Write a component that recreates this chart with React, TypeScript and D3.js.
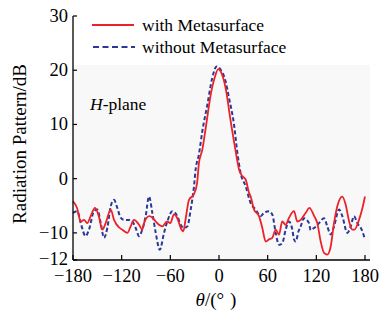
import React from "react";
import * as d3 from "d3";

// angle (deg) and level (dB)
const redAngles = [-180, -175, -170.5, -166.4, -162.4, -158.2, -152.9, -148, -143.9, -139.7, -133.5, -129.4, -123.3, -119.2, -113, -108.9, -104.8, -98.6, -94.6, -92, -86, -82, -78, -74, -70, -64, -60, -55.5, -51.4, -47.2, -44, -41, -37, -31, -27, -24.7, -20.6, -16.4, -10.2, -5, -1, 2, 8.2, 14.4, 20.6, 24.7, 28, 33, 37, 39, 43.2, 49.3, 53.4, 57.6, 61.6, 65.7, 69.9, 74, 78, 82.2, 86.3, 92.5, 96.5, 100.7, 106.9, 111.5, 117, 121.2, 125.4, 129.5, 133.5, 137.7, 141.8, 146, 152, 156.2, 160.3, 164.3, 167, 172.6, 176.7, 180];
const redValues = [-4.2, -5.4, -7.9, -7.6, -8.2, -6.9, -5.4, -7.0, -9.4, -8.2, -5.7, -7.6, -9.0, -9.4, -10.0, -8.8, -7.6, -8.5, -9.4, -8.0, -6.9, -7.2, -7.9, -8.5, -8.8, -7.9, -8.2, -6.6, -7.3, -9.1, -9.7, -7.3, -3.9, -2.9, -0.8, 2.9, 5.3, 9.3, 15.5, 18.8, 20.2, 19.8, 16.7, 10.6, 5.0, 1.7, 0.6, -0.2, -2.6, -3.3, -5.7, -6.9, -9.1, -11.6, -11.2, -10.9, -9.4, -10.3, -7.9, -8.5, -7.2, -6.0, -7.9, -7.6, -6.3, -5.4, -6.8, -8.2, -11.6, -13.7, -14.0, -12.5, -8.2, -5.0, -3.3, -4.8, -7.8, -9.4, -9.4, -7.6, -5.5, -3.3];

const blueAngles = [-180, -174.7, -170.5, -164.4, -160.3, -154.1, -150, -145.8, -141.8, -137.7, -133.5, -129.4, -125.4, -121.2, -117.1, -111, -106.9, -102.7, -98.6, -94.6, -90.4, -86.3, -82.2, -78, -73, -67.8, -63.7, -57.5, -51.4, -47.2, -43.2, -39, -34.9, -30.8, -28.8, -24.7, -20.6, -14.4, -8.3, -2.9, 2.1, 8.2, 12.3, 18.5, 22.6, 26.7, 32.9, 39, 45.2, 51.4, 55.5, 61.6, 65.7, 69.9, 74, 78, 82.2, 86.3, 90.4, 92.5, 94.6, 98, 100.7, 104.8, 111, 113, 117.1, 120, 123.3, 129.5, 133.5, 137.7, 141.8, 148, 152, 158.2, 162.4, 166.4, 170.5, 175.9, 180];
const blueValues = [-6.3, -6.0, -8.2, -10.6, -9.4, -6.0, -5.7, -8.2, -10.9, -9.1, -5.1, -3.9, -5.4, -7.2, -7.6, -7.6, -7.9, -9.1, -10.6, -9.4, -6.9, -3.3, -6.3, -10, -13.1, -10, -7.9, -6.0, -6.9, -8.5, -9.1, -8.8, -5.7, -1.4, 1.7, 4.5, 8.7, 13.6, 18.6, 20.7, 20.1, 17.9, 14.9, 10, 4.8, 1.0, -1.4, -4.5, -5.7, -6.9, -6.3, -6.0, -6.6, -10, -12.2, -11.9, -9.4, -7.9, -9.4, -11.2, -11.6, -9.7, -8.8, -7.3, -8.2, -9.5, -9.1, -8.8, -8.2, -7.3, -8.8, -10.3, -8.8, -5.7, -6.9, -10, -8.8, -6.9, -8.2, -9.4, -11.2];

const xTicks = [-180, -120, -60, 0, 60, 120, 180];
const yTicks = [-15, -10, 0, 10, 20, 30];
const yTickLabels = ["−12", "−10", "0", "10", "20", "30"];

const seriesNames = ["with Metasurface", "without Metasurface"];

const font = "Liberation Serif";

export default function App() {
  const width = 382, height = 312;
  const left = 73, right = 365, top = 16, bottom = 260;

  const x = d3.scaleLinear().domain([-180, 180]).range([left, right]);
  const y = d3.scaleLinear().domain([-15, 30]).range([bottom, top]);

  const line = d3.line<[number, number]>()
    .x(d => x(d[0]))
    .y(d => y(d[1]))
    .curve(d3.curveMonotoneX);

  const red = redAngles.map((a, i) => [a, redValues[i]] as [number, number]);
  const blue = blueAngles.map((a, i) => [a, blueValues[i]] as [number, number]);

  const fmt = (v: number) => (v < 0 ? "−" + Math.abs(v) : String(v));
  const txt = { fontFamily: font };

  return (
    <svg width={width} height={height} style={{ position: "absolute", left: 0, top: 0, background: "#fff" }}>
      <rect x={left} y={65} width={370 - left} height={bottom - 65} fill="#f8f8f8" />

      <path d={line(blue) || ""} fill="none" stroke="#2a3897" strokeWidth={2} strokeDasharray="4,2.5" />
      <path d={line(red) || ""} fill="none" stroke="#ec2227" strokeWidth={1.8} />

      {/* axes */}
      <line x1={left} y1={top} x2={left} y2={bottom} stroke="#000" strokeWidth={1.3} />
      <line x1={left} y1={bottom} x2={370} y2={bottom} stroke="#000" strokeWidth={1.3} />
      {yTicks.map((t, i) => (
        <g key={"y" + i}>
          <line x1={left} x2={left + 4} y1={y(t)} y2={y(t)} stroke="#000" strokeWidth={1.2} />
          <text style={txt} x={left - 5} y={t === -15 ? 265 : y(t) + 6} textAnchor="end" fontSize={18.5}>{yTickLabels[i]}</text>
        </g>
      ))}
      {xTicks.map((t, i) => (
        <g key={"x" + i}>
          <line x1={x(t)} x2={x(t)} y1={bottom} y2={bottom - 5} stroke="#000" strokeWidth={1.2} />
          <text style={txt} x={x(t)} y={282} textAnchor="middle" fontSize={18.5}>{fmt(t)}</text>
        </g>
      ))}

      <text style={txt} transform="translate(26,144) rotate(-90)" textAnchor="middle" fontSize={19}>Radiation Pattern/dB</text>
      <text style={txt} x={216} y={306} textAnchor="middle" fontSize={19}>
        <tspan fontStyle="italic">θ</tspan>/(°<tspan dx={6}>)</tspan>
      </text>
      <text style={txt} x={90} y={110} fontSize={17.5}>
        <tspan fontStyle="italic">H</tspan>-plane
      </text>

      {/* legend */}
      <line x1={92} x2={134} y1={25} y2={25} stroke="#ec2227" strokeWidth={1.8} />
      <line x1={93} x2={135} y1={47} y2={47} stroke="#2a3897" strokeWidth={2} strokeDasharray="6,3.5" />
      <text style={txt} x={142} y={31} fontSize={17.5}>{seriesNames[0]}</text>
      <text style={txt} x={142} y={53} fontSize={17.5}>{seriesNames[1]}</text>
    </svg>
  );
}
